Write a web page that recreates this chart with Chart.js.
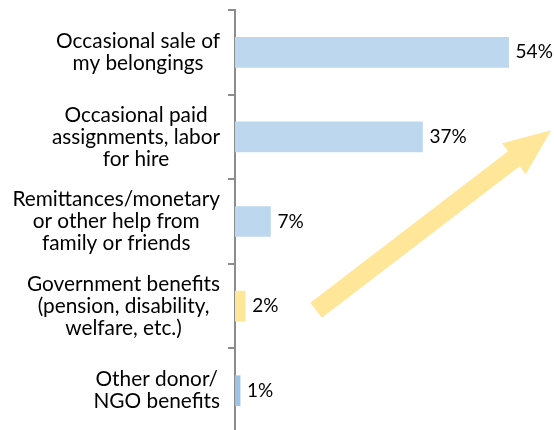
<!DOCTYPE html>
<html>
<head>
<meta charset="utf-8">
<script src="https://cdn.jsdelivr.net/npm/chart.js@4/dist/chart.umd.min.js"></script>
<style>
    html, body { margin: 0; padding: 0; background: #fff; overflow: hidden; }
    #wrap { width: 554px; height: 436px; position: relative; }
</style>
</head>
<body>
<div id="wrap"><canvas id="chart"></canvas></div>
<script>
const categories = [
    ["Occasional sale of", "my belongings"],
    ["Occasional paid", "assignments, labor", "for hire"],
    ["Remittances/monetary", "or other help from", "family or friends"],
    ["Government benefits", "(pension, disability,", "welfare, etc.)"],
    ["Other donor/", "NGO benefits"]
];
const shares = [54, 37, 7, 2, 1];
const barColors = ["#BDD7EE", "#BDD7EE", "#BDD7EE", "#FFE699", "#9DC3E6"];

// arrow annotation, in data units: [x value, category index]
const arrowFrom = [16, 3.05];
const arrowTo = [62.4, 0.92];

const FONT = "20.8px Lato, 'Open Sans', sans-serif";
const VALUE_FONT = "19px Lato, 'Open Sans', sans-serif";
const AXIS_GRAY = "#8c8c8c";

const labelsPlugin = {
    id: "labels",
    afterDraw(chart) {
        const ctx = chart.ctx;
        const yScale = chart.scales.y;
        const left = chart.chartArea.left;
        ctx.save();
        ctx.font = FONT;
        ctx.fillStyle = "#000";
        ctx.textBaseline = "middle";

        // category labels: block right aligned, lines centred inside the block
        ctx.textAlign = "center";
        categories.forEach((lines, i) => {
            const y = yScale.getPixelForTick(i);
            const widest = Math.max(...lines.map(l => ctx.measureText(l).width));
            const cx = left - 15 - widest / 2;
            const lh = 22;
            lines.forEach((line, k) => {
                ctx.fillText(line, cx, y + (k - (lines.length - 1) / 2) * lh);
            });
        });

        // value labels
        ctx.font = VALUE_FONT;
        ctx.textAlign = "left";
        chart.getDatasetMeta(0).data.forEach((bar, i) => {
            ctx.fillText(shares[i] + "%", bar.x + 7, bar.y);
        });
        ctx.restore();
    }
};

const arrowPlugin = {
    id: "arrow",
    afterDatasetsDraw(chart) {
        const xs = chart.scales.x, ys = chart.scales.y;
        const x0 = xs.getPixelForValue(arrowFrom[0]), y0 = ys.getPixelForValue(arrowFrom[1]);
        const x1 = xs.getPixelForValue(arrowTo[0]), y1 = ys.getPixelForValue(arrowTo[1]);
        const len = Math.hypot(x1 - x0, y1 - y0);
        const ux = (x1 - x0) / len, uy = (y1 - y0) / len;
        const nx = -uy, ny = ux;
        const shaft = 9.5, head = 19.5, headLen = 47;
        const bx = x1 - ux * headLen, by = y1 - uy * headLen;

        const ctx = chart.ctx;
        ctx.save();
        ctx.fillStyle = "#FFE699";
        ctx.beginPath();
        ctx.moveTo(x0 + nx * shaft, y0 + ny * shaft);
        ctx.lineTo(bx + nx * shaft, by + ny * shaft);
        ctx.lineTo(bx + nx * head, by + ny * head);
        ctx.lineTo(x1, y1);
        ctx.lineTo(bx - nx * head, by - ny * head);
        ctx.lineTo(bx - nx * shaft, by - ny * shaft);
        ctx.lineTo(x0 - nx * shaft, y0 - ny * shaft);
        ctx.closePath();
        ctx.fill();
        ctx.restore();
    }
};

new Chart(document.getElementById("chart"), {
    type: "bar",
    data: {
        labels: categories,
        datasets: [{
            data: shares,
            backgroundColor: barColors,
            borderWidth: 0,
            barThickness: 30
        }]
    },
    options: {
        indexAxis: "y",
        responsive: true,
        maintainAspectRatio: false,
        animation: false,
        layout: {
            padding: { top: 10, right: 15, bottom: 3, left: 0 }
        },
        plugins: {
            legend: { display: false },
            tooltip: { enabled: false }
        },
        scales: {
            x: {
                display: false,
                min: 0,
                max: 60
            },
            y: {
                offset: true,
                grid: {
                    offset: true,
                    drawOnChartArea: false,
                    drawTicks: true,
                    tickLength: 7,
                    lineWidth: 2,
                    color: AXIS_GRAY
                },
                border: {
                    color: AXIS_GRAY,
                    width: 2
                },
                ticks: {
                    display: false
                },
                afterFit(scale) {
                    scale.width = 235;
                }
            }
        }
    },
    plugins: [arrowPlugin, labelsPlugin]
});
</script>
</body>
</html>
